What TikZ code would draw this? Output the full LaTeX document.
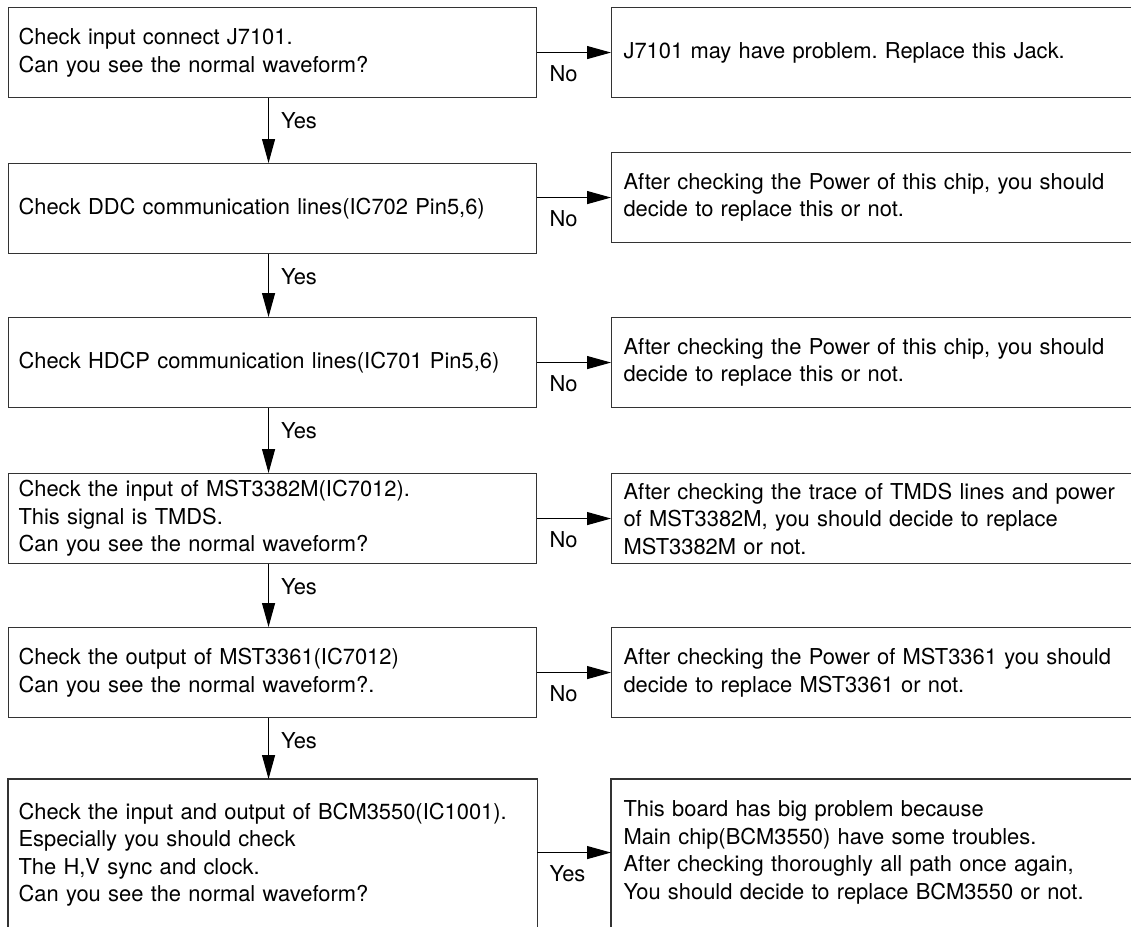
\documentclass[tikz,border=0pt]{standalone}
\usepackage{fontspec}
\setmainfont{TeX Gyre Heros}
\usetikzlibrary{arrows.meta}
\frenchspacing
\begin{document}
\begin{tikzpicture}[x=1pt,y=-1pt,
  every node/.style={font=\fontsize{21.9}{27.5}\selectfont},
  lbox/.style={draw=black!80, line width=1.1pt, anchor=north west, inner xsep=10pt, inner ysep=0pt, text width=508pt, align=left, minimum height=90pt},
  rbox/.style={lbox, inner xsep=12pt, text width=516pt},
  openbox/.style={lbox, draw=none},
  openrbox/.style={rbox, draw=none},
  arr/.style={-{Triangle[length=24pt,width=13pt]}, line width=1.1pt, draw=black},
  lab/.style={inner sep=0pt, anchor=north west, pos=0, xshift=12pt, yshift=-12pt}
]
\useasboundingbox (0,0) rectangle (1131,926);
\clip (0,0) rectangle (1131,926);

\node[lbox] (l1) at (8,7) {Check input connect J7101.\\Can you see the normal waveform?};
\node[rbox] (r1) at (611,7) {J7101 may have problem. Replace this Jack.};

\node[lbox] (l2) at (8,163) {Check DDC communication lines(IC702 Pin5,6)};
\node[rbox] (r2) at (611,152) {After checking the Power of this chip, you should\\decide to replace this or not.};

\node[lbox] (l3) at (8,317) {Check HDCP communication lines(IC701 Pin5,6)};
\node[rbox] (r3) at (611,317) {After checking the Power of this chip, you should\\decide to replace this or not.};

\node[lbox] (l4) at (8,473) {Check the input of MST3382M(IC7012).\\This signal is TMDS.\\Can you see the normal waveform?};
\node[rbox] (r4) at (611,473) {After checking the trace of TMDS lines and power\\of MST3382M, you should decide to replace\\MST3382M or not.};

\node[lbox] (l5) at (8,627) {Check the output of MST3361(IC7012)\\Can you see the normal waveform?.};
\node[rbox] (r5) at (611,627) {After checking the Power of MST3361 you should\\decide to replace MST3361 or not.};

\node[openbox, minimum height=150pt] (l6) at (8,779) {Check the input and output of BCM3550(IC1001).\\Especially you should check\\The H,V sync and clock.\\Can you see the normal waveform?};
\node[openrbox, minimum height=146pt] (r6) at (611,779) {This board has big problem because\\Main chip(BCM3550) have some troubles.\\After checking thoroughly all path once again,\\You should decide to replace BCM3550 or not.};
\coordinate (bot) at (0,940);
\draw[draw=black!80, line width=1.1pt] (l6.west |- bot) -- (l6.north west) -- (l6.north east) -- (l6.east |- bot);
\draw[draw=black!80, line width=1.1pt] (r6.west |- bot) -- (r6.north west) -- (r6.north east) -- (r6.east |- bot);

% horizontal arrows
\draw[arr] (r1.west -| l1.east) -- node[lab]{No} (r1.west);
\draw[arr] (r2.west -| l2.east) -- node[lab]{No} (r2.west);
\draw[arr] (r3.west -| l3.east) -- node[lab]{No} (r3.west);
\draw[arr] (r4.west -| l4.east) -- node[lab]{No} (r4.west);
\draw[arr] (r5.west -| l5.east) -- node[lab]{No} (r5.west);
\draw[arr] (r6.west -| l6.east) -- node[lab]{Yes} (r6.west);

% vertical arrows
\draw[arr] ([xshift=-4pt]l1.south) -- node[lab, yshift=-2pt]{Yes} ([xshift=-4pt]l2.north);
\draw[arr] ([xshift=-4pt]l2.south) -- node[lab, yshift=-2pt]{Yes} ([xshift=-4pt]l3.north);
\draw[arr] ([xshift=-4pt]l3.south) -- node[lab, yshift=-2pt]{Yes} ([xshift=-4pt]l4.north);
\draw[arr] ([xshift=-4pt]l4.south) -- node[lab, yshift=-2pt]{Yes} ([xshift=-4pt]l5.north);
\draw[arr] ([xshift=-4pt]l5.south) -- node[lab, yshift=-2pt]{Yes} ([xshift=-4pt]l6.north);
\end{tikzpicture}
\end{document}
